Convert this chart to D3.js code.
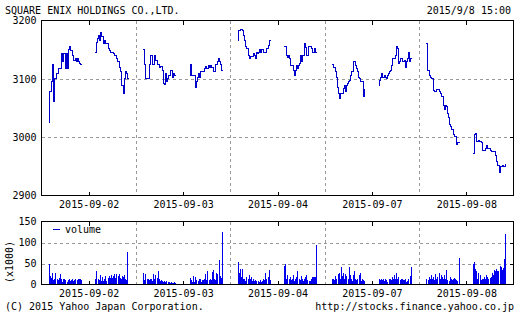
<!DOCTYPE html>
<html><head><meta charset="utf-8">
<script src="https://cdn.jsdelivr.net/npm/d3@7"></script>
<style>
body{margin:0;background:#fff}
svg{display:block}
text{font-family:"DejaVu Sans Mono",monospace;font-size:10px;fill:#000}
</style>
</head><body>
<svg id="c" width="520" height="316"></svg>
<script>
// ---------- data ----------
const title = "SQUARE ENIX HOLDINGS CO.,LTD.";
const stamp = "2015/9/8 15:00";
const days = ["2015-09-02","2015-09-03","2015-09-04","2015-09-07","2015-09-08"];
const priceTicks = [2900, 3000, 3100, 3200];
const volTicks = [0, 50, 100, 150];

// 5-minute prices, morning (9:00-11:30) and afternoon (12:30-15:00) sessions
const priceAM = [
 [3026,3079,3095,3124,3062,3100,3100,3110,3110,3118,3118,3143,3130,3143,3143,3118,3143,3117,3150,3155,3148,3140,3132,3132,3135,3130,3135,3130,3126,3124],
 [3150,3124,3101,3101,3101,3101,3124,3140,3124,3124,3140,3132,3132,3124,3124,3120,3122,3115,3092,3090,3109,3095,3101,3106,3106,3115,3103,3109,3105,3105],
 [3166,3183,3183,3185,3183,3174,3166,3155,3152,3152,3140,3135,3138,3138,3143,3140,3135,3146,3143,3146,3150,3146,3150,3146,3146,3146,3152,3152,3157,3166],
 [3124,3120,3120,3112,3103,3086,3075,3067,3075,3075,3084,3089,3078,3089,3092,3095,3098,3106,3112,3129,3129,3123,3118,3112,3103,3100,3095,3095,3069,3081],
 [3160,3115,3115,3106,3103,3100,3080,3078,3078,3081,3081,3081,3078,3075,3069,3055,3047,3055,3052,3041,3033,3021,3018,3013,3004,3002,3001,2987,2991,2991]
];
const pricePM = [
 [3145,3163,3169,3174,3165,3179,3172,3160,3166,3160,3160,3160,3152,3148,3145,3145,3143,3140,3140,3135,3129,3129,3120,3112,3089,3075,3100,3113,3110,3100],
 [3105,3124,3105,3105,3105,3085,3095,3103,3109,3103,3112,3112,3112,3118,3122,3118,3118,3123,3120,3123,3120,3112,3112,3124,3124,3129,3135,3130,3124,3115],
 [3156,3156,3140,3136,3140,3135,3123,3123,3115,3106,3115,3123,3118,3123,3126,3140,3129,3140,3160,3154,3140,3140,3155,3155,3155,3152,3146,3152,3146,3146],
 [3089,3098,3103,3109,3103,3106,3103,3101,3106,3109,3112,3115,3123,3135,3135,3140,3155,3152,3126,3129,3135,3135,3129,3132,3120,3129,3135,3145,3129,3135],
 [2972,3004,3006,2993,2993,2994,2993,2993,2991,2978,2978,2981,2985,2981,2981,2981,2978,2976,2976,2976,2968,2959,2951,2951,2940,2950,2949,2951,2949,2953]
];
// 5-minute volume (x1000)
const volAM = [
 [49,20,15,27,10,12,28,14,10,16,25,12,7,12,14,10,7,10,13,8,10,12,9,10,13,10,12,13,12,10],
 [28,10,25,12,14,11,12,14,8,25,12,22,16,32,12,8,10,8,6,8,7,8,5,6,4,5,4,3,5,4],
 [53,28,37,18,37,14,12,8,18,14,22,14,18,8,12,8,10,8,8,6,10,6,8,14,10,27,14,18,35,10],
 [14,12,10,20,14,24,28,14,42,20,28,14,25,20,14,42,22,14,8,22,33,14,10,14,22,28,8,14,10,8],
 [14,10,18,14,22,14,18,10,25,14,18,28,14,22,18,14,22,14,34,10,8,18,14,10,14,16,14,10,8,63]
];
const volPM = [
 [14,32,12,10,22,8,18,8,12,20,8,16,20,16,22,15,20,25,15,25,20,26,15,12,20,18,22,14,10,78],
 [15,10,7,20,7,18,10,8,12,14,7,10,10,14,25,10,32,10,14,10,29,35,14,10,27,26,58,20,16,125],
 [45,49,14,22,14,18,10,14,22,8,14,18,32,14,10,20,14,8,14,18,22,10,9,8,14,18,18,18,18,94],
 [14,10,12,10,14,8,14,10,6,12,14,10,18,14,22,14,28,14,18,10,14,12,10,10,14,6,8,14,20,42],
 [48,53,37,32,14,28,22,10,14,14,18,14,22,18,14,16,18,28,22,35,32,37,32,32,45,42,35,40,60,120]
];

// ---------- layout ----------
const svg = d3.select("#c");
const L = 41.5, R = 513.5;
const DAY = 426, OPEN = 33;          // virtual minutes per day slot, offset of 9:00
const sessions = [{start:540, p:priceAM, v:volAM}, {start:750, p:pricePM, v:volPM}];
const x = d3.scaleLinear().domain([0, days.length * DAY]).range([L, R]);
const tm = (d, minute) => d * DAY + OPEN + (minute - 540);
const yP = d3.scaleLinear().domain([2900, 3200]).range([195.5, 20.5]);
const yV = d3.scaleLinear().domain([0, 150]).range([284.5, 221.5]);

const blue = "#0000cc", barBlue = "#0000ee", gridC = "#999";

// text header/footer
svg.append("text").attr("x", 5).attr("y", 14).text(title);
svg.append("text").attr("x", 511).attr("y", 14).attr("text-anchor", "end").text(stamp);
svg.append("text").attr("x", 5).attr("y", 310).text("(C) 2015 Yahoo Japan Corporation.");
svg.append("text").attr("x", 514).attr("y", 310).attr("text-anchor", "end").text("http://stocks.finance.yahoo.co.jp");

function panel(y, ticks, inner, top, bottom) {
  const g = svg.append("g").attr("shape-rendering", "crispEdges");
  // horizontal grid
  g.selectAll(".hg").data(inner).join("line")
    .attr("x1", L).attr("x2", R).attr("y1", d => Math.round(y(d)) + 0.5).attr("y2", d => Math.round(y(d)) + 0.5)
    .attr("stroke", gridC).attr("stroke-dasharray", "3,3");
  // vertical day separators
  g.selectAll(".vg").data(d3.range(1, days.length)).join("line")
    .attr("x1", d => Math.round(x(d * DAY)) + 0.5).attr("x2", d => Math.round(x(d * DAY)) + 0.5)
    .attr("y1", top).attr("y2", bottom)
    .attr("stroke", gridC).attr("stroke-dasharray", "3,3");
  // ticks at day centres (top & bottom) and right side
  const centers = days.map((d, i) => Math.round(x(i * DAY + DAY / 2)) + 0.5);
  g.selectAll(".tt").data(centers).join("line").attr("x1", d => d).attr("x2", d => d)
    .attr("y1", top).attr("y2", top + 4).attr("stroke", "#000");
  g.selectAll(".tb").data(centers).join("line").attr("x1", d => d).attr("x2", d => d)
    .attr("y1", bottom).attr("y2", bottom - 4).attr("stroke", "#000");
  g.selectAll(".tr").data(inner).join("line")
    .attr("x1", R - 4).attr("x2", R).attr("y1", d => Math.round(y(d)) + 0.5).attr("y2", d => Math.round(y(d)) + 0.5)
    .attr("stroke", "#000");
  // y labels
  const ax = svg.append("g").attr("transform", `translate(${L},0)`)
    .call(d3.axisLeft(y).tickValues(ticks).tickSize(0).tickPadding(5).tickFormat(d3.format("d")));
  ax.select(".domain").remove();
  ax.selectAll("text").style("font-family", '"DejaVu Sans Mono",monospace').style("font-size", "10px").attr("fill", "#000");
  // x labels
  const xa = svg.append("g").attr("transform", `translate(0,${bottom})`)
    .call(d3.axisBottom(x).tickValues(days.map((d, i) => i * DAY + DAY / 2)).tickSize(0).tickPadding(5)
      .tickFormat((d, i) => days[i]));
  xa.select(".domain").remove();
  xa.selectAll("text").style("font-family", '"DejaVu Sans Mono",monospace').style("font-size", "10px").attr("fill", "#000");
  return g;
}

// ---------- price panel ----------
panel(yP, priceTicks, [3000, 3100], 20.5, 195.5);
const line = d3.line().x(d => x(d[0])).y(d => yP(d[1])).curve(d3.curveStepAfter);
const pg = svg.append("g");
days.forEach((day, d) => {
  sessions.forEach(s => {
    const vals = s.p[d];
    const pts = vals.map((v, i) => [tm(d, s.start + 5 * i), v]);
    pts.push([tm(d, s.start + 150), vals[vals.length - 1]]);
    pg.append("path").attr("d", line(pts)).attr("fill", "none")
      .attr("stroke", blue).attr("stroke-width", 1).attr("shape-rendering", "crispEdges");
  });
});

// ---------- volume panel ----------
panel(yV, volTicks, [50, 100], 221.5, 284.5);
const vg = svg.append("g").attr("shape-rendering", "crispEdges");
days.forEach((day, d) => {
  sessions.forEach(s => {
    vg.selectAll(null).data(s.v[d]).join("rect")
      .attr("x", (v, i) => x(tm(d, s.start + 5 * i)))
      .attr("width", (v, i) => Math.max(1, x(tm(d, s.start + 5 * i + 5)) - x(tm(d, s.start + 5 * i)) - 0.15))
      .attr("y", v => yV(v))
      .attr("height", v => yV(0) - yV(v))
      .attr("fill", barBlue);
  });
});
// legend
svg.append("line").attr("x1", 53).attr("x2", 60).attr("y1", 229.5).attr("y2", 229.5)
  .attr("stroke", blue).attr("shape-rendering", "crispEdges");
svg.append("text").attr("x", 65).attr("y", 233).text("volume");
// unit label
svg.append("text").attr("transform", "translate(13,262) rotate(-90)").attr("text-anchor", "middle").text("(x1000)");

// frames on top
const fr = svg.append("g").attr("fill", "none").attr("stroke", "#000").attr("shape-rendering", "crispEdges");
fr.append("rect").attr("x", L).attr("y", 20.5).attr("width", R - L).attr("height", 175);
fr.append("rect").attr("x", L).attr("y", 221.5).attr("width", R - L).attr("height", 63);
</script>
</body></html>
